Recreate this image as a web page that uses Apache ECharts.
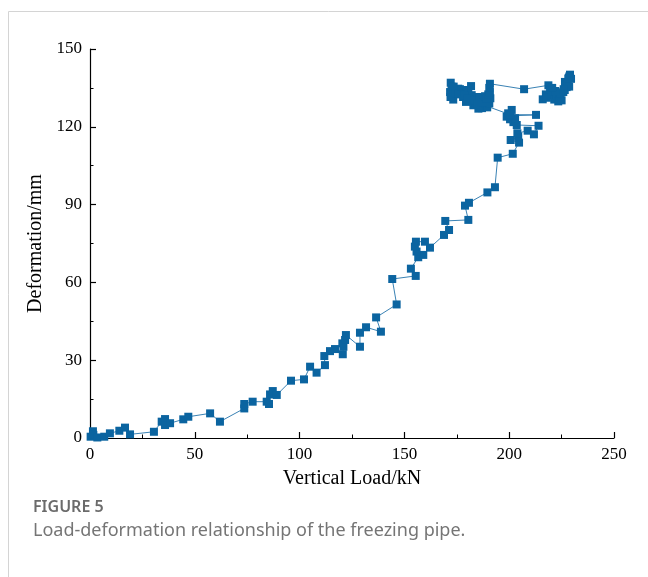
<!DOCTYPE html>
<html>
<head>
<meta charset="utf-8">
<script src="https://cdn.jsdelivr.net/npm/echarts@6/dist/echarts.min.js"></script>
<style>
  html, body { margin: 0; padding: 0; background: #fff; }
  #chart { width: 648px; height: 577px; }
</style>
</head>
<body>
<div id="chart"></div>
<script>
// Vertical load (kN) applied to the freezing pipe, in test order
const loadKN = [
  0.3, 1.4, 1.6, 3.5, 6.8, 9.5, 14.0, 16.7, 19.1, 30.5,
  34.2, 35.8, 35.8, 38.2, 44.5, 46.9, 57.3, 62.0, 73.6, 73.6,
  77.6, 84.3, 85.4, 85.9, 87.2, 89.1, 95.9, 102.1, 105.0, 108.1,
  112.1, 111.8, 114.5, 116.9, 120.6, 120.9, 120.4, 121.7, 122.1, 128.8,
  128.8, 131.7, 138.8, 136.5, 146.3, 144.2, 155.4, 153.1, 156.6, 159.0,
  155.8, 155.0, 155.5, 159.8, 162.2, 168.9, 171.3, 169.5, 180.5, 178.9,
  180.8, 189.6, 193.2, 194.5, 201.7, 204.7, 200.7, 204.3, 203.9, 208.8,
  211.8, 214.0, 203.6, 202.0, 200.4, 198.8, 199.5, 202.8, 201.2, 200.0,
  212.8, 200.4,
  189.2, 188.4, 187.0, 185.3, 182.9, 184.0, 186.5, 189.5, 190.5, 191.0,
  189.0, 186.0, 184.5, 183.0, 182.1, 181.0, 179.4, 178.0, 180.5, 181.8,
  180.0, 178.1, 176.5, 175.7, 174.0, 173.3, 172.0, 171.8, 172.5, 172.1,
  173.5, 174.5, 176.0, 177.0, 178.5, 180.0, 183.5, 185.0, 186.0, 187.5,
  188.5, 189.2, 190.0, 190.8, 190.5, 190.8,
  207.1,
  218.7, 219.5, 217.5, 216.0, 218.0, 220.3, 221.5, 222.6, 223.4, 224.2,
  225.0, 224.0, 225.8, 226.5, 227.4, 226.6, 227.0, 228.2, 228.8, 229.0,
  229.5, 228.5, 227.8, 228.6, 226.0, 224.5, 222.0, 220.5
];

// Measured deformation (mm) at each load step
const deformationMM = [
  0.5, 2.6, 1.2, 0.2, 0.5, 1.8, 2.8, 4.0, 1.4, 2.4,
  6.3, 7.3, 5.0, 5.7, 7.2, 8.2, 9.5, 6.3, 11.4, 13.1,
  14.0, 14.0, 13.1, 16.8, 18.1, 16.6, 22.1, 22.6, 27.5, 25.2,
  28.1, 31.6, 33.5, 34.3, 32.3, 35.2, 36.5, 37.8, 39.7, 35.2,
  40.6, 42.7, 41.0, 46.5, 51.5, 61.3, 62.5, 65.3, 69.7, 70.6,
  71.9, 73.8, 75.7, 75.7, 73.4, 78.3, 80.2, 83.7, 84.1, 89.6,
  90.7, 94.7, 96.7, 108.1, 109.6, 113.9, 114.9, 116.2, 117.5, 118.5,
  117.1, 120.4, 120.7, 121.8, 122.9, 123.9, 125.2, 123.3, 126.5, 124.2,
  124.6, 124.7,
  128.0, 128.3, 127.2, 127.0, 128.3, 129.2, 129.0, 127.5, 129.0, 131.0,
  130.8, 130.0, 130.2, 131.5, 132.2, 130.5, 129.6, 131.5, 133.5, 135.7,
  134.2, 134.0, 134.5, 134.7, 133.0, 130.5, 131.5, 133.4, 135.5, 137.0,
  135.5, 133.0, 132.8, 132.5, 132.0, 131.0, 130.0, 128.8, 131.5, 129.5,
  131.8, 130.8, 132.5, 133.4, 135.0, 136.6,
  134.5,
  136.0, 134.5, 132.5, 130.6, 131.2, 132.1, 130.5, 132.1, 129.8, 131.0,
  130.2, 132.5, 133.4, 134.2, 135.3, 137.3, 136.0, 138.6, 139.5, 140.1,
  138.5, 139.0, 136.5, 135.5, 134.5, 133.0, 133.8, 135.0
];

// Axis tick values
const xTicks = [0, 50, 100, 150, 200, 250];
const yTicks = [0, 30, 60, 90, 120, 150];

const seriesData = loadKN.map((x, i) => [x, deformationMM[i]]);

const serif = '"Liberation Serif", "Times New Roman", serif';
const sans = '"Noto Sans", "Open Sans", sans-serif';
const blue = '#0b64a0';

const chart = echarts.init(document.getElementById('chart'), null, { renderer: 'canvas' });

chart.setOption({
  animation: false,
  backgroundColor: '#fff',
  grid: { left: 90, right: 34, top: 49, bottom: 139, containLabel: false },
  xAxis: {
    type: 'value',
    min: xTicks[0],
    max: xTicks[xTicks.length - 1],
    interval: xTicks[1] - xTicks[0],
    name: 'Vertical Load/kN',
    nameLocation: 'middle',
    nameGap: 31,
    nameTextStyle: { fontFamily: serif, fontSize: 20, color: '#000' },
    axisLine: { show: true, onZero: false, lineStyle: { color: '#000', width: 1.2 } },
    axisTick: { show: true, inside: true, length: 6, lineStyle: { color: '#000', width: 1.2 } },
    minorTick: { show: true, splitNumber: 2, length: 3.5, lineStyle: { color: '#000', width: 1 } },
    axisLabel: { fontFamily: serif, fontSize: 17, color: '#000', margin: 8 },
    splitLine: { show: false }
  },
  yAxis: {
    type: 'value',
    min: yTicks[0],
    max: yTicks[yTicks.length - 1],
    interval: yTicks[1] - yTicks[0],
    name: 'Deformation/mm',
    nameLocation: 'middle',
    nameGap: 33,
    nameTextStyle: { fontFamily: serif, fontSize: 20, color: '#000' },
    axisLine: { show: true, onZero: false, lineStyle: { color: '#000', width: 1.2 } },
    axisTick: { show: true, inside: true, length: 6, lineStyle: { color: '#000', width: 1.2 } },
    minorTick: { show: true, splitNumber: 2, length: 3.5, lineStyle: { color: '#000', width: 1 } },
    axisLabel: { fontFamily: serif, fontSize: 17, color: '#000', margin: 8 },
    splitLine: { show: false }
  },
  series: [{
    type: 'line',
    data: seriesData,
    symbol: 'rect',
    symbolSize: 8,
    showAllSymbol: true,
    lineStyle: { color: '#3a82b4', width: 1 },
    itemStyle: { color: blue, borderWidth: 0 },
    clip: false
  }],
  graphic: [
    { type: 'line', shape: { x1: 8.5, y1: 11.5, x2: 648, y2: 11.5 }, style: { stroke: '#d4d4d4', lineWidth: 1 } },
    { type: 'line', shape: { x1: 8.5, y1: 11.5, x2: 8.5, y2: 577 }, style: { stroke: '#d4d4d4', lineWidth: 1 } },
    { type: 'text', left: 33, top: 499, style: { text: 'FIGURE 5', font: '600 16px ' + sans, fill: '#6b6b6b' } },
    { type: 'text', left: 33, top: 522, style: { text: 'Load-deformation relationship of the freezing pipe.', font: '18px ' + sans, fill: '#757575' } }
  ]
});
</script>
</body>
</html>
